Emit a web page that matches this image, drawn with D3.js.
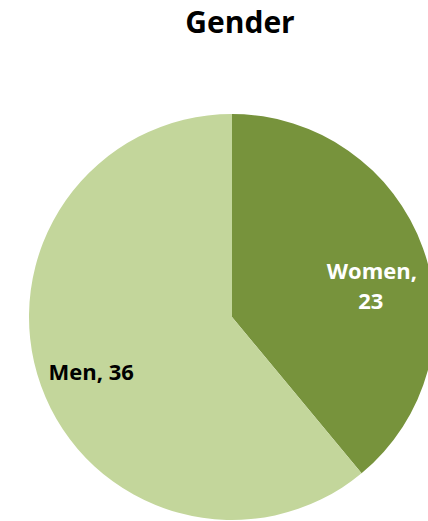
<!DOCTYPE html>
<html><head><meta charset="utf-8">
<script src="https://cdn.jsdelivr.net/npm/d3@7"></script>
<style>body{margin:0;background:#fff}svg{display:block}</style>
</head><body>
<script>
const categories = ["Women", "Men"];
const values = [23, 36];
const colors = ["#77933C", "#C3D69B"];

const W = 428, H = 521;
const cx = 232, cy = 317, r = 203;
const svg = d3.select("body").append("svg").attr("width", W).attr("height", H);
const font = "'Open Sans', Lato, sans-serif";

svg.append("text").attr("x", 240).attr("y", 33).attr("text-anchor", "middle")
  .attr("font-family", font).attr("font-weight", 700).attr("font-size", 30)
  .attr("fill", "#000").text("Gender");

const data = categories.map((c, i) => ({c, v: values[i]}));
const pie = d3.pie().value(d => d.v).sort(null);
const arc = d3.arc().innerRadius(0).outerRadius(r);
const g = svg.append("g").attr("transform", `translate(${cx},${cy})`);
const arcs = pie(data);
g.selectAll("path").data(arcs).join("path")
  .attr("d", arc).attr("fill", (d, i) => colors[i]);

// labels
const labelArc = d3.arc().innerRadius(r * 0.68).outerRadius(r * 0.68);
arcs.forEach((d, i) => {
  const [x, y] = labelArc.centroid(d);
  const t = g.append("text").attr("font-family", font).attr("font-weight", 700)
    .attr("font-size", 22).attr("text-anchor", "middle")
    .attr("fill", i === 0 ? "#fff" : "#000");
  if (i === 0) {
    t.append("tspan").attr("x", x + 10).attr("y", y + 9).text(d.data.c + ",");
    t.append("tspan").attr("x", x + 9).attr("y", y + 39).text(d.data.v);
  } else {
    t.append("tspan").attr("x", x - 11).attr("y", y + 16).text(d.data.c + ", " + d.data.v);
  }
});
</script>
</body></html>
